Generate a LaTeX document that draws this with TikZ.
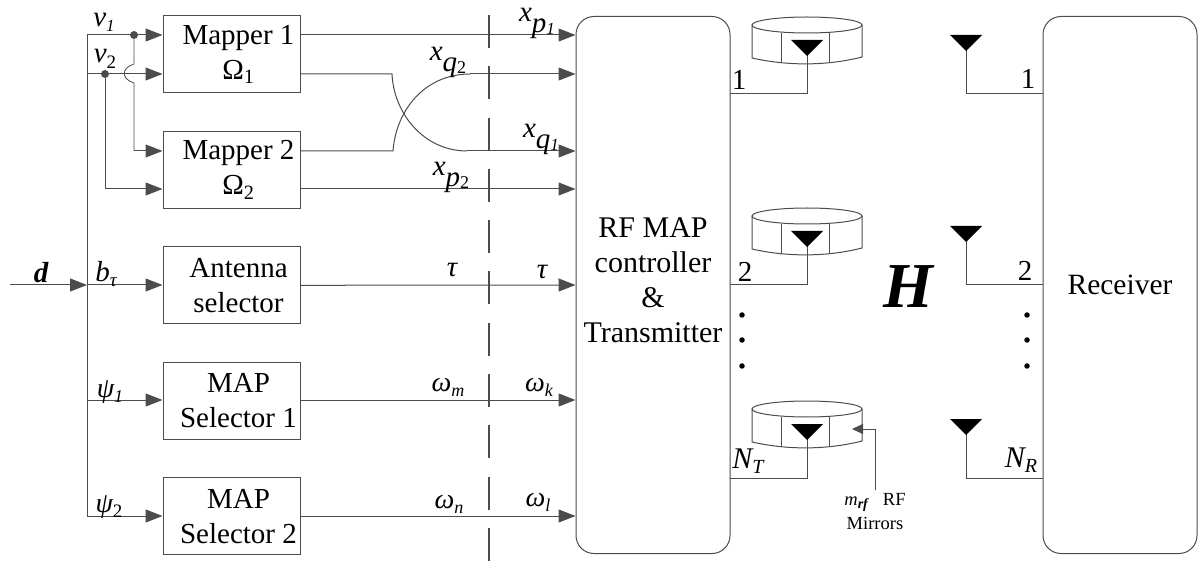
\documentclass[tikz,border=0pt]{standalone}
\usepackage{fontspec}
\setmainfont{Liberation Serif}
\usetikzlibrary{arrows.meta,positioning}

\definecolor{wire}{gray}{0.3}
\newcommand{\fsz}[1]{\fontsize{#1}{35}\selectfont}
\newcommand{\low}[3]{\raisebox{-#1pt}{\fsz{#2}#3}}

\tikzset{
  mirror/.pic={
    \draw[wire,-] (-55,0) -- (-55,33) .. controls (-20,41) and (20,41) .. (55,32) -- (55,0);
    \draw[wire,-] (0,0) ellipse (55 and 8);
    \draw[wire,-] (-26,8) -- (-26,38);
    \draw[wire,-] (22,8) -- (22,38);
  },
  dish/.pic={
    \fill[black] (-16,0) -- (16,0) -- (0,16) -- cycle;
  }
}

\begin{document}
\begin{tikzpicture}[x=1pt,y=-1pt,->,>={Triangle[length=17pt,width=13pt]},line width=1pt,
    node distance=115.4pt,
    main node/.style={rectangle,draw=wire,minimum width=137pt,minimum height=77pt,inner sep=0pt},
    big node/.style={rectangle,draw=wire,rounded corners=18pt,minimum width=154pt,minimum height=537pt,inner sep=0pt},
    txt/.style={inner sep=0pt,align=center,font=\fsz{30}},
    box txt/.style={txt,xshift=7pt,font=\fsz{29}},
    lab/.style={inner sep=0pt,font=\fsz{29}\itshape},
    greek/.style={inner sep=0pt,font=\fsz{28}\itshape},
    num/.style={inner sep=0pt,font=\fsz{29}},
    tick/.style={fill=wire,circle,inner sep=0pt,minimum size=8pt},
    spot/.style={fill=black,circle,inner sep=0pt,minimum size=5.5pt}]
\useasboundingbox (0,0) rectangle (1200,561);

\node[main node,label={[box txt]center:Mapper 1\\Ω\textsubscript{1}}] (map1) at (231.5,54.5) {};
\node[main node,label={[box txt]center:Mapper 2\\Ω\textsubscript{2}}] (map2) [below of=map1] {};
\node[main node,label={[box txt]center:Antenna\\selector}] (ant) [below of=map2] {};
\node[main node,label={[box txt]center:MAP\\Selector 1}] (sel1) [below of=ant] {};
\node[main node,label={[box txt]center:MAP\\Selector 2}] (sel2) [below of=sel1] {};

\node[big node,label={[txt,yshift=4.5pt]center:RF MAP\\controller\\\&\\Transmitter}] (ctrl) at (653,285) {};
\node[big node,label={[txt,font=\fsz{29.5}]center:Receiver}] (rx) at (1120,285) {};

% bus and inputs
\coordinate (d0) at (10,285);
\coordinate (bus0) at (87,35);
\coordinate (bus1) at (87,74);
\coordinate (bus2) at (87,285);
\coordinate (bus3) at (87,400);
\coordinate (bus4) at (87,516);
\node[tick] (j1) at (134,35) {};
\node[tick] (j2) at (105,74) {};
\coordinate (hop0) at (134,64);
\coordinate (hop1) at (134,83);
\coordinate (in3) at (134,151);
\coordinate (in4) at (105,189);

\draw[wire,-] (bus0) -- (bus4);
\draw[wire] (d0) -- (bus2);
\draw[wire] (bus0) -- (bus0 -| map1.west);
\draw[wire] (bus1) -- (bus1 -| map1.west);
\draw[wire,-,line width=.8pt] (j1) -- (hop0) .. controls (121,68) and (121,79) .. (hop1) -- (in3);
\draw[wire] (in3) -- (in3 -| map2.west);
\draw[wire] (j2) |- (in4 -| map2.west);
\draw[wire] (bus2) -- (bus2 -| ant.west);
\draw[wire] (bus3) -- (bus3 -| sel1.west);
\draw[wire] (bus4) -- (bus4 -| sel2.west);

% outputs to the controller
\coordinate (c1) at (392,74);
\coordinate (c2) at (467,151);
\coordinate (c3) at (393,151);
\coordinate (c4) at (470,74);
\coordinate (out1) at (300,189);
\draw[wire] (bus0 -| map1.east) -- (bus0 -| ctrl.west);
\draw[wire,-] (bus1 -| map1.east) -- (c1) .. controls (394,115) and (425,151) .. (c2);
\draw[wire] (c2) -- (c2 -| ctrl.west);
\draw[wire,-] (c3 -| map2.east) -- (c3) .. controls (396,110) and (425,74) .. (c4);
\draw[wire] (c4) -- (c4 -| ctrl.west);
\draw[wire] (out1) -- (out1 -| ctrl.west);
\draw[wire] (ant.east) -- (bus2 -| ctrl.west);
\draw[wire] (sel1.east |- bus3) -- (bus3 -| ctrl.west);
\draw[wire] (sel2.east |- bus4) -- (bus4 -| ctrl.west);

% cut line
\coordinate (cut0) at (489,15);
\coordinate (cut1) at (489,561);
\draw[wire,-,line width=1.5pt,dash pattern=on 33pt off 18.3pt] (cut0) -- (cut1);

% antennas
\foreach \name/\ya/\yb in {1/0/94,2/191/285,3/384/478}{
  \pic at (807,25+\ya) {mirror};
  \coordinate (txp\name) at (730,\yb);
  \coordinate (txa\name) at (807,48+\ya);
  \draw[wire,-] (txp\name) -| (txa\name);
  \pic at (807,40+\ya) {dish};
  \coordinate (rxp\name) at (1043,\yb);
  \coordinate (rxa\name) at (966,45+\ya);
  \draw[wire,-] (rxp\name) -| (rxa\name);
  \pic at (966,35+\ya) {dish};
}

\foreach \yy [count=\i] in {315,340,366}{
  \node[spot] (ldot\i) at (742,\yy) {};
  \node[spot] (rdot\i) at (1027,\yy) {};
}

% labels
\node[lab] (lv1) at (104,22) {v\low{5}{17}{1}};
\node[lab] (lv2) at (105,59) {v\low{6}{19}{\upshape 2}};
\node[lab] (ld) at (41,273) {\bfseries d};
\node[lab] (lb) at (106,274) {b\low{5}{19}{τ}};
\node[greek] (lp1) at (110,392) {ψ\low{5}{18}{1}};
\node[greek] (lp2) at (109,507) {ψ\low{5}{19}{\upshape 2}};
\node[lab] (xp1) at (537,23) {x\low{11}{29}{p}\low{13}{17}{1}};
\node[lab] (xq2) at (448,62) {x\low{11}{29}{q}\low{13}{18}{\upshape 2}};
\node[lab] (xq1) at (541,139) {x\low{11}{29}{q}\low{13}{17}{1}};
\node[lab] (xp2) at (451,177) {x\low{11}{29}{p}\low{13}{18}{\upshape 2}};
\node[lab] (tau1) at (452,270) {τ};
\node[lab] (tau2) at (542,272) {τ};
\node[greek] (om) at (448,387) {ω\low{5}{18}{m}};
\node[greek] (ok) at (539,387) {ω\low{5}{18}{k}};
\node[greek] (on) at (449,504) {ω\low{5}{18}{n}};
\node[greek] (ol) at (538,502) {ω\low{5}{18}{l}};
\node[num] (t1) at (739,80) {1};
\node[num] (t2) at (745,272) {2};
\node[lab,font=\fsz{30}\itshape] (tn) at (748,461) {N\low{5}{20}{T}};
\node[num] (r1) at (1028,79) {1};
\node[num] (r2) at (1025,271) {2};
\node[lab,font=\fsz{30}\itshape] (rn) at (1021,460) {N\low{5}{20}{R}};
\node[lab,font=\fsz{64}\itshape\bfseries] (hh) at (908,287) {H};

% mirror callout
\node[inner sep=0pt,align=center,font=\fontsize{18.5}{24}\selectfont] (rf) at (875,512) {\textit{m}\low{3}{14}{\textit{\textbf{rf}}}\ \ \ RF\\Mirrors};
\coordinate (bend) at (875,429);
\coordinate (aim) at (852,429);
\draw[wire,line width=.9pt,>={Triangle[length=11pt,width=10pt]}] (875,490) -- (bend) -- (aim);

\end{tikzpicture}
\end{document}
